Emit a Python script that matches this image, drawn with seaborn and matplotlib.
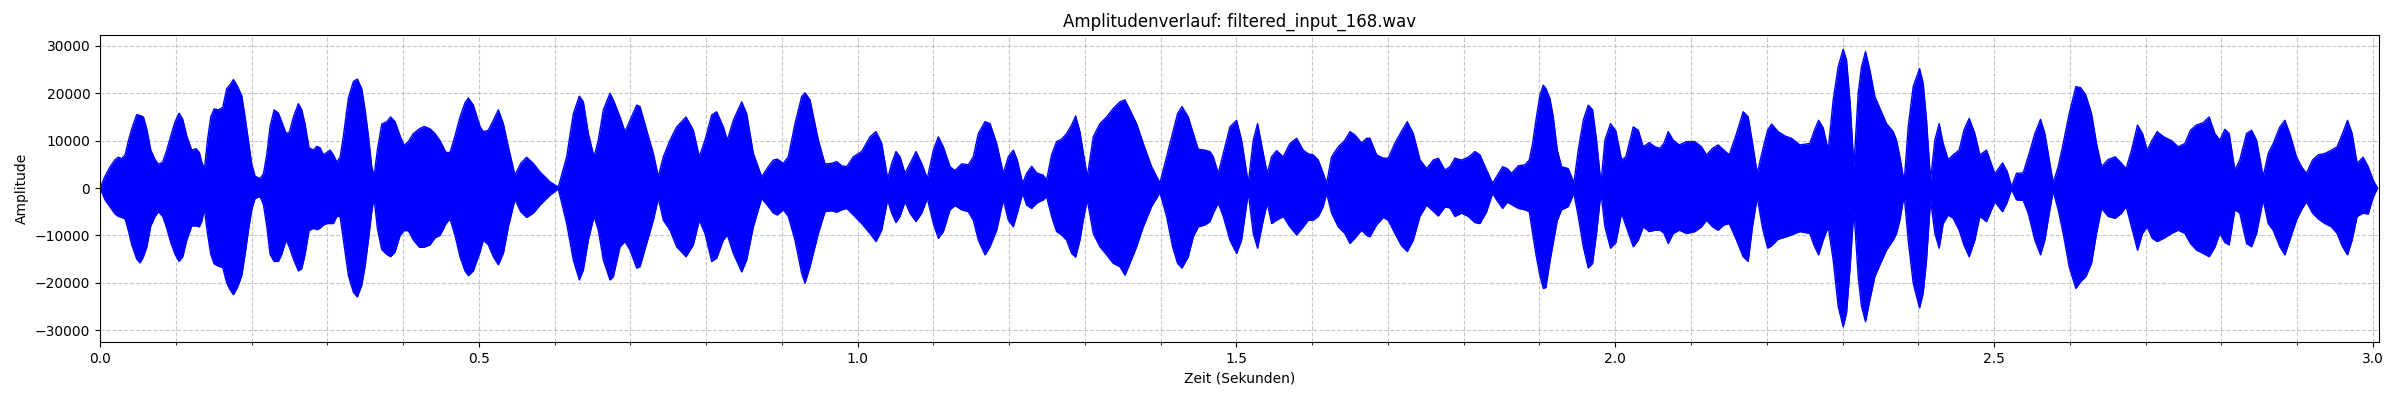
import matplotlib
matplotlib.use("Agg")
import matplotlib.pyplot as plt
from matplotlib.ticker import MultipleLocator
import numpy as np
import pandas as pd
import seaborn as sns

title = "Amplitudenverlauf: filtered_input_168.wav"
x_label = "Zeit (Sekunden)"
y_label = "Amplitude"
duration_s = 3.008

# Envelope of the waveform: time (s), upper and lower peak amplitude
time_s = [
    0.0000, 0.0066, 0.0132, 0.0198, 0.0242, 0.0286, 0.0330, 0.0374, 0.0418, 0.0484,
    0.0528, 0.0572, 0.0616, 0.0669, 0.0726, 0.0770, 0.0827, 0.0880, 0.0933, 0.0990,
    0.1043, 0.1091, 0.1144, 0.1210, 0.1267, 0.1311, 0.1342, 0.1377, 0.1417, 0.1461,
    0.1505, 0.1562, 0.1619, 0.1672, 0.1716, 0.1760, 0.1813, 0.1870, 0.1914, 0.1958,
    0.2002, 0.2046, 0.2112, 0.2156, 0.2200, 0.2244, 0.2297, 0.2354, 0.2398, 0.2455,
    0.2499, 0.2552, 0.2618, 0.2662, 0.2706, 0.2758, 0.2816, 0.2860, 0.2904, 0.2948,
    0.2992, 0.3036, 0.3080, 0.3124, 0.3168, 0.3212, 0.3278, 0.3344, 0.3396, 0.3454,
    0.3498, 0.3542, 0.3586, 0.3616, 0.3660, 0.3718, 0.3784, 0.3836, 0.3894, 0.3960,
    0.4012, 0.4069, 0.4136, 0.4215, 0.4276, 0.4355, 0.4421, 0.4487, 0.4567, 0.4619,
    0.4685, 0.4751, 0.4817, 0.4861, 0.4927, 0.5015,
    0.5059, 0.5125, 0.5191, 0.5257, 0.5323, 0.5389, 0.5477, 0.5552, 0.5631, 0.5719,
    0.5807, 0.5939, 0.6049, 0.6159, 0.6247, 0.6326, 0.6379, 0.6445, 0.6520, 0.6577,
    0.6643, 0.6731, 0.6775, 0.6863, 0.6929, 0.6995, 0.7083, 0.7127, 0.7215, 0.7303,
    0.7369, 0.7435, 0.7523, 0.7611, 0.7734, 0.7831, 0.7910, 0.7985, 0.8073, 0.8139,
    0.8227, 0.8280, 0.8359, 0.8469, 0.8535, 0.8623, 0.8733, 0.8821, 0.8887, 0.8940,
    0.9019, 0.9085, 0.9173, 0.9261, 0.9305, 0.9371, 0.9481, 0.9569, 0.9657, 0.9723,
    0.9789, 0.9855, 0.9943, 1.0053, 1.0163, 1.0242, 1.0317, 1.0396, 1.0449, 1.0506,
    1.0559, 1.0625, 1.0691, 1.0770,
    1.0845, 1.0919, 1.0999, 1.1065, 1.1131, 1.1219, 1.1285, 1.1373, 1.1461, 1.1527,
    1.1593, 1.1681, 1.1747, 1.1835, 1.1923, 1.1989, 1.2055, 1.2107, 1.2178, 1.2230,
    1.2297, 1.2363, 1.2450, 1.2494, 1.2560, 1.2626, 1.2692, 1.2758, 1.2824, 1.2877,
    1.2934, 1.2987, 1.3031, 1.3110, 1.3198, 1.3286, 1.3374, 1.3462, 1.3528, 1.3594,
    1.3682, 1.3770, 1.3880, 1.3990, 1.4078, 1.4157, 1.4223, 1.4281, 1.4364, 1.4430,
    1.4496, 1.4584, 1.4650, 1.4694, 1.4760, 1.4826, 1.4914, 1.5002, 1.5068, 1.5156,
    1.5222, 1.5279, 1.5354, 1.5407, 1.5464, 1.5530, 1.5618, 1.5706, 1.5794, 1.5882,
    1.5948, 1.6014, 1.6080, 1.6146, 1.6190, 1.6256, 1.6344, 1.6432, 1.6498, 1.6564,
    1.6652, 1.6718, 1.6762, 1.6850, 1.6938, 1.7004, 1.7092, 1.7180, 1.7255, 1.7334,
    1.7422, 1.7510, 1.7598, 1.7664, 1.7752, 1.7818, 1.7884, 1.7972, 1.8060, 1.8148,
    1.8214, 1.8302, 1.8381, 1.8434, 1.8513, 1.8575, 1.8632, 1.8720, 1.8808, 1.8865,
    1.8909, 1.8953, 1.9006, 1.9050, 1.9085, 1.9138, 1.9182, 1.9235, 1.9292, 1.9380,
    1.9454, 1.9512, 1.9578, 1.9644, 1.9701, 1.9753, 1.9811, 1.9864, 1.9938, 2.0009,
    2.0084, 2.0141, 2.0238, 2.0304, 2.0370, 2.0449, 2.0524, 2.0590, 2.0642, 2.0699,
    2.0766, 2.0845, 2.0941, 2.1051, 2.1139, 2.1205, 2.1285, 2.1359, 2.1434, 2.1504,
    2.1601, 2.1689, 2.1755, 2.1813, 2.1874, 2.1945, 2.2011, 2.2063, 2.2151, 2.2239,
    2.2327, 2.2437,
    2.2569, 2.2622, 2.2684, 2.2745, 2.2811, 2.2877, 2.2943, 2.3009, 2.3053, 2.3101,
    2.3150, 2.3207, 2.3251, 2.3304, 2.3361, 2.3427, 2.3502, 2.3581, 2.3669, 2.3713,
    2.3757, 2.3814, 2.3867, 2.3933, 2.4017, 2.4065, 2.4109, 2.4162, 2.4219, 2.4276,
    2.4329, 2.4395, 2.4461, 2.4540, 2.4602, 2.4672, 2.4747, 2.4813, 2.4901, 2.5011,
    2.5112, 2.5174, 2.5231, 2.5297, 2.5385, 2.5451, 2.5539, 2.5614, 2.5671, 2.5737,
    2.5781, 2.5847, 2.5913, 2.5992, 2.6080, 2.6142, 2.6212, 2.6287, 2.6353, 2.6419,
    2.6507, 2.6599, 2.6683, 2.6744, 2.6815, 2.6894, 2.6960, 2.7021, 2.7087, 2.7153,
    2.7241, 2.7343, 2.7431, 2.7519, 2.7593, 2.7673, 2.7761, 2.7840, 2.7915, 2.7981,
    2.8047, 2.8104, 2.8179, 2.8244,
    2.8333, 2.8399, 2.8465, 2.8553, 2.8619, 2.8685, 2.8773, 2.8839, 2.8904, 2.8992,
    2.9058, 2.9124, 2.9204, 2.9279, 2.9367, 2.9454, 2.9529, 2.9600, 2.9666, 2.9727,
    2.9793, 2.9872, 2.9939, 3.0004, 3.0062,
]

env_upper = [
    0, 2500, 4500, 6000, 6500, 6200, 7000, 10000, 12500, 15500,
    15300, 15000, 12500, 8000, 6000, 5000, 5500, 8000, 11000, 14000,
    15800, 14500, 11000, 8000, 8300, 7500, 5500, 4000, 10000, 15000,
    16700, 16500, 17000, 21000, 21800, 22900, 21500, 19500, 15000, 10000,
    5000, 2500, 2000, 3000, 7000, 13000, 16500, 15800, 14000, 11500,
    11800, 15000, 17800, 16500, 13500, 8500, 8000, 8800, 8500, 7000,
    7500, 8000, 7000, 5500, 6500, 11000, 19000, 22500, 23000, 21000,
    16500, 11000, 4500, 2500, 8000, 13500, 14000, 15000, 14000, 11000,
    9000, 9800, 11500, 12500, 13000, 12500, 11500, 10000, 7500, 7500,
    11000, 15000, 18000, 19000, 17500, 13000,
    11900, 12200, 14300, 16500, 13600, 8700, 2700, 5200, 6500, 5200,
    3400, 1300, 200, 6600, 15700, 19400, 18200, 11500, 6600, 10100,
    16500, 20000, 18600, 15000, 11900, 14300, 17500, 17200, 12200, 7300,
    2400, 6600, 10100, 12900, 15000, 12200, 6600, 10100, 15400, 16100,
    12900, 10100, 14300, 18200, 15700, 7300, 2400, 4500, 5900, 6100,
    5200, 6600, 13600, 19300, 20100, 18600, 10100, 5100, 5200, 5600,
    4700, 4500, 6600, 7700, 10800, 11900, 9500, 2000, 5200, 7700,
    6600, 3100, 5200, 7700,
    5200, 2000, 8000, 10800, 8700, 4500, 3700, 5100, 4900, 6600,
    11500, 14000, 13600, 9400, 3100, 6600, 8000, 5900, 1000, 3100,
    4600, 3200, 2700, 1700, 7000, 9800, 10300, 11500, 13300, 15200,
    11900, 6600, 2400, 10800, 13600, 15000, 16800, 18200, 18600, 16500,
    13600, 9400, 4500, 1100, 6600, 11500, 15700, 17200, 15000, 11500,
    8200, 8000, 7700, 6600, 3100, 7300, 12900, 14300, 10100, 1100,
    10100, 13600, 7300, 3100, 6600, 7900, 6600, 9400, 10500, 8000,
    7200, 7000, 5900, 3100, 1000, 6600, 8700, 10100, 11900, 11200,
    9500, 10500, 10500, 7000, 6300, 6300, 9500, 12000, 14000, 11500,
    6000, 4100, 5900, 6300, 3800, 4500, 6300, 5900, 6500, 7700,
    7000, 3800, 1000, 2400, 4500, 4100, 3100, 4700, 4900, 5900,
    9400, 14300, 19600, 21700, 21000, 18900, 15000, 8000, 4500, 4100,
    1100, 8000, 14300, 17500, 16500, 10100, 1000, 10100, 13600, 12000,
    5900, 6600, 12900, 12200, 8700, 9600, 8700, 8400, 9400, 11900,
    10100, 9100, 9800, 9800, 8700, 7000, 8400, 9100, 8000, 7000,
    11500, 16100, 15000, 9400, 3100, 8000, 12200, 13500, 11900, 11000,
    10500, 9100,
    9400, 11900, 14300, 12700, 8000, 18600, 25600, 29300, 27000, 17900,
    4500, 20000, 25600, 28800, 24900, 19300, 16500, 13600, 11900, 10100,
    6600, 1300, 12900, 21400, 25200, 22100, 14300, 1700, 10100, 13600,
    9400, 6000, 7000, 8000, 12200, 14700, 11500, 7000, 8000, 3000,
    5300, 3500, 300, 3100, 3200, 6600, 11500, 14500, 11500, 5200,
    1100, 4500, 9400, 15700, 21400, 21200, 19600, 15700, 9400, 4500,
    6000, 6600, 5200, 4100, 8000, 13300, 11500, 8000, 10100, 11900,
    10800, 10000, 8700, 9400, 12200, 13300, 13800, 15000, 11500, 10100,
    12400, 11500, 3800, 5900,
    11500, 12200, 10100, 2400, 7300, 9400, 12900, 14300, 11500, 6600,
    4500, 3100, 5900, 7000, 7300, 8000, 8700, 11500, 14300, 11500,
    5200, 6500, 4500, 1700, 0,
]

env_lower = [
    0, -2500, -4000, -5500, -6000, -6200, -6500, -9000, -12000, -15000,
    -15800, -14500, -12500, -8000, -6000, -5000, -6000, -8500, -11500, -14000,
    -15500, -14500, -11000, -8000, -8000, -8200, -7000, -4500, -9500, -14000,
    -16000, -16500, -16800, -20000, -21500, -22500, -21000, -18500, -14000, -9000,
    -4500, -2200, -1800, -3500, -8000, -14000, -15500, -15500, -14000, -11000,
    -12500, -15000, -17500, -17000, -14000, -9000, -8500, -8800, -8500, -7800,
    -7500, -7500, -7500, -6000, -6000, -11000, -18500, -22000, -23000, -20500,
    -16500, -11000, -5000, -2000, -8500, -13000, -14000, -14500, -13500, -10000,
    -9000, -9000, -11000, -12500, -12500, -12000, -10500, -10000, -7500, -6500,
    -10000, -14500, -17500, -18500, -17500, -13500,
    -11000, -12000, -14500, -16200, -13800, -8200, -2400, -5000, -6200, -5300,
    -3600, -1500, -200, -7500, -15200, -19400, -17300, -11000, -6000, -8900,
    -15200, -19400, -18700, -12400, -11300, -13100, -16900, -16600, -11700, -6800,
    -2200, -6800, -8900, -12400, -14500, -12000, -6800, -9600, -15500, -14800,
    -11000, -9900, -13800, -17700, -15200, -8200, -2200, -3900, -5300, -5700,
    -4600, -6000, -11000, -18000, -20100, -16600, -9600, -5000, -4800, -5100,
    -4600, -4300, -5700, -7500, -9600, -11300, -8900, -2500, -5300, -7300,
    -6000, -2900, -5300, -7100,
    -5300, -2200, -7500, -10600, -9200, -4600, -3700, -4600, -5000, -6800,
    -11000, -14100, -12400, -8900, -2500, -6800, -8200, -5300, -1100, -3600,
    -4300, -3200, -2500, -1800, -6000, -9200, -9900, -11000, -13800, -14600,
    -11000, -6000, -2500, -9600, -12400, -14100, -15900, -16600, -18400, -15900,
    -12400, -8200, -3900, -1000, -6000, -12400, -15900, -16900, -14500, -10300,
    -8200, -7800, -7100, -5300, -3200, -6000, -11000, -13800, -11000, -1000,
    -9600, -12700, -6800, -3200, -7500, -6800, -6000, -8200, -9900, -8200,
    -6800, -6800, -6000, -3900, -1100, -5300, -8200, -9600, -11700, -10600,
    -8900, -10000, -10300, -7800, -6200, -6800, -9600, -12200, -13400, -11000,
    -6000, -3600, -4900, -5900, -4000, -4200, -6000, -5300, -6000, -7300,
    -7500, -5000, -1100, -2500, -4300, -3000, -3500, -4300, -4600, -5000,
    -9500, -14000, -18500, -21200, -21000, -15500, -11500, -6800, -4600, -3900,
    -1100, -6000, -12400, -16900, -15900, -9600, -1000, -8200, -12700, -11500,
    -5300, -8000, -12400, -11000, -8200, -9200, -8900, -8900, -9500, -11700,
    -9600, -8900, -9600, -9200, -8200, -6800, -8200, -8900, -7800, -7500,
    -11000, -14500, -15500, -8000, -2000, -8500, -12700, -12200, -10800, -10400,
    -9900, -9200,
    -9600, -12000, -14100, -11000, -8200, -15200, -25000, -29300, -26400, -16600,
    -4600, -18700, -25000, -28200, -23600, -18700, -15900, -13100, -11000, -9600,
    -6800, -1500, -11000, -20100, -25300, -22200, -15200, -2500, -9600, -12700,
    -7500, -5700, -6400, -8900, -12000, -14500, -11000, -6000, -7100, -2900,
    -5000, -3000, -300, -2500, -2600, -5300, -11000, -14100, -11000, -4600,
    -600, -4600, -9600, -16600, -21200, -19800, -18700, -15900, -9600, -4300,
    -6000, -6400, -5300, -3900, -8200, -13100, -9600, -8200, -10600, -11300,
    -10600, -9600, -8900, -9600, -11700, -13100, -13800, -14500, -12500, -9600,
    -11500, -12000, -4600, -5300,
    -11700, -12400, -9600, -2500, -7500, -8900, -12400, -14100, -11000, -6800,
    -4600, -2900, -5300, -6500, -7500, -8200, -9600, -12400, -14100, -11000,
    -6000, -5300, -5500, -2000, 0,
]

df = pd.DataFrame({"time": time_s, "upper": env_upper, "lower": env_lower})

plt.rcdefaults()
fig, ax = plt.subplots(figsize=(24, 4), dpi=100)
fig.subplots_adjust(left=0.0417, right=0.9912, top=0.9125, bottom=0.145)

ax.fill_between(df["time"], df["lower"], df["upper"], color="blue", linewidth=0)
sns.lineplot(data=df, x="time", y="upper", color="blue", linewidth=1.0,
             estimator=None, sort=False, ax=ax)
sns.lineplot(data=df, x="time", y="lower", color="blue", linewidth=1.0,
             estimator=None, sort=False, ax=ax)

ax.set_xlim(0, duration_s)
ax.set_ylim(-32500, 32300)
ax.xaxis.set_major_locator(MultipleLocator(0.5))
ax.xaxis.set_minor_locator(MultipleLocator(0.1))
ax.grid(True, which="both", linestyle="--", alpha=0.7)
ax.set_axisbelow(True)

ax.set_title(title, fontsize=12)
ax.set_xlabel(x_label, fontsize=10)
ax.set_ylabel(y_label, fontsize=10)

fig.savefig("out.png", dpi=100)
